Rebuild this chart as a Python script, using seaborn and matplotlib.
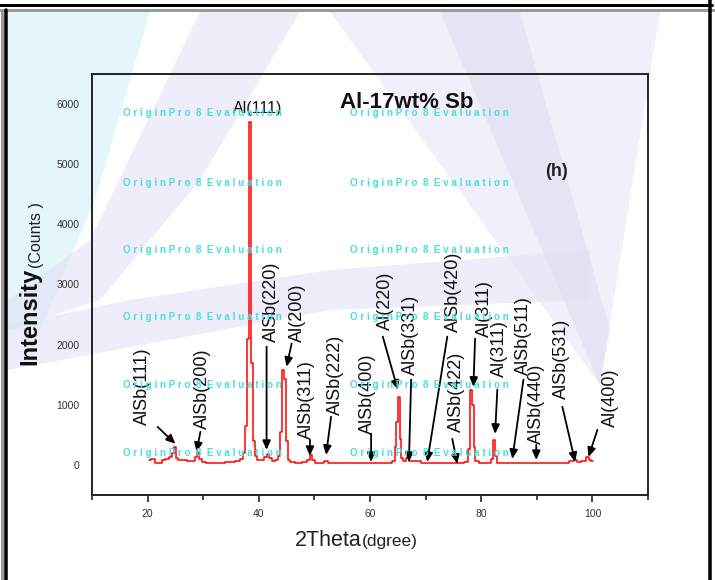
import matplotlib
matplotlib.use('Agg')
import matplotlib.pyplot as plt
import seaborn as sns
from matplotlib.patches import Polygon
from matplotlib.lines import Line2D
from matplotlib.ticker import MultipleLocator

# XRD trace (2theta in degrees, intensity in counts)
two_theta = [20.2, 21.0, 21.6, 22.4, 22.8, 23.6, 24.2, 24.6, 25.0, 25.3, 25.8, 26.6,
             27.4, 28.4, 28.8, 29.1, 29.4, 30.0, 31.0, 33.0, 35.0, 36.5, 36.9, 37.3,
             37.7, 38.1, 38.5, 38.8, 39.1, 39.4, 39.8, 40.6, 41.2, 41.6, 42.0, 42.6,
             43.2, 43.6, 44.0, 44.4, 44.8, 45.1, 45.4, 46.0, 47.0, 48.5, 49.0, 49.4,
             49.8, 50.5, 51.5, 51.9, 53.0, 56.0, 58.0, 60.4, 62.0, 63.5, 64.3, 64.6,
             64.9, 65.2, 65.5, 65.8, 66.2, 66.8, 67.2, 67.8, 68.2, 70.0, 73.0, 75.5,
             76.5, 77.4, 77.9, 78.2, 78.5, 78.8, 79.1, 80.0, 81.5, 82.0, 82.4, 82.7,
             83.0, 85.0, 90.0, 95.0, 96.5, 97.0, 97.5, 98.5, 99.1, 99.5, 100.1]
counts = [90, 100, 40, 40, 90, 100, 130, 200, 300, 120, 80, 80,
          70, 70, 130, 220, 100, 50, 40, 40, 50, 60, 100, 200,
          650, 2100, 5700, 1700, 400, 150, 80, 80, 130, 180, 120, 60,
          80, 150, 550, 1580, 1430, 400, 80, 50, 40, 50, 90, 160,
          80, 40, 40, 60, 30, 30, 30, 30, 30, 40, 60, 300,
          720, 1130, 430, 120, 60, 120, 60, 60, 70, 30, 30, 40,
          40, 50, 260, 1250, 1000, 300, 60, 30, 40, 100, 420, 150,
          40, 30, 30, 40, 60, 80, 50, 60, 140, 80, 60]

# peak labels: text bottom-centre, arrow start, arrow tip (data coords)
peak_labels = ['AlSb(111)', 'AlSb(200)', 'AlSb(220)', 'Al(200)', 'AlSb(311)',
               'AlSb(222)', 'AlSb(400)', 'Al(220)', 'AlSb(331)', 'AlSb(420)',
               'AlSb(422)', 'Al(311)', 'Al(311)', 'AlSb(511)', 'AlSb(440)',
               'AlSb(531)', 'Al(400)']
label_pos = [(19.1, 667), (29.9, 600), (42.3, 2050), (47.0, 2050), (48.6, 433),
             (53.7, 833), (59.5, 517), (62.7, 2250), (67.2, 1500), (75.0, 2217),
             (75.5, 550), (80.5, 2133), (83.2, 1467), (87.6, 1500), (89.9, 350),
             (94.4, 1100), (103.2, 633)]
arrow_from = [(21.8, 633), (29.5, 550), (41.4, 1967), (45.9, 2017), (49.2, 417),
              (53.0, 800), (60.2, 517), (62.3, 2133), (67.4, 1417), (73.9, 2133),
              (74.8, 433), (78.9, 2100), (82.9, 1250), (87.6, 1417), (89.9, 333),
              (94.6, 967), (100.9, 583)]
arrow_to = [(25.0, 350), (28.8, 217), (41.4, 250), (45.0, 1633), (49.2, 150),
            (52.1, 167), (60.2, 50), (65.0, 1250), (67.0, 50), (70.3, 50),
            (75.7, 17), (78.6, 1300), (82.5, 517), (85.6, 100), (89.9, 83),
            (96.9, 50), (99.3, 133)]

x_ticks = [20, 40, 60, 80, 100]
y_ticks = [0, 1000, 2000, 3000, 4000, 5000, 6000]

W, H = 715, 580


def fx(px):
    return px / W


def fy(py):
    return 1 - py / H


sns.set_theme(style='white')
plt.rcParams['font.family'] = ['Liberation Sans', 'DejaVu Sans']

fig = plt.figure(figsize=(W / 100, H / 100), dpi=100)
fig.patch.set_facecolor('white')

# faint watermark swooshes behind the plot
shapes = [
    ([(8, 12), (150, 12), (95, 200), (40, 330), (8, 330)], '#dff4fb', 0.8),
    ([(200, 12), (300, 12), (200, 180), (100, 300), (8, 330), (8, 300), (90, 240)], '#e3e1f5', 0.6),
    ([(8, 325), (130, 300), (330, 270), (590, 250), (590, 300), (330, 310), (8, 370)], '#e4e2f5', 0.6),
    ([(330, 12), (660, 12), (600, 385), (560, 330), (430, 150)], '#e8e6f7', 0.6),
    ([(440, 12), (520, 12), (610, 330), (600, 385)], '#dcd9f0', 0.45),
]
for pts, col, a in shapes:
    fig.patches.append(Polygon([(fx(x), fy(y)) for x, y in pts], closed=True,
                               transform=fig.transFigure, facecolor=col,
                               edgecolor='none', alpha=a, zorder=-5))

ax = fig.add_axes([fx(92), fy(495), fx(648) - fx(92), fy(74) - fy(495)])
ax.set_facecolor('none')

sns.lineplot(x=two_theta, y=counts, ax=ax, color='#ff0000', lw=1.1,
             drawstyle='steps-mid', estimator=None, sort=False, zorder=3)

ax.set_xlim(10, 110)
ax.set_ylim(-500, 6500)
ax.set_xticks(x_ticks)
ax.set_yticks(y_ticks)
ax.xaxis.set_minor_locator(MultipleLocator(10))
ax.tick_params(axis='x', which='major', direction='out', length=5, width=1.2,
               color='#222222', labelsize=7.5, labelcolor='#333333', pad=5, bottom=True)
ax.tick_params(axis='x', which='minor', direction='out', length=3.5, width=1.2,
               color='#222222', bottom=True)
ax.tick_params(axis='y', length=0, labelsize=7.5, labelcolor='#333333', pad=9)
for s in ax.spines.values():
    s.set_visible(True)
    s.set_color('#222222')
    s.set_linewidth(1.4)
ax.set_xlabel('')
ax.set_ylabel('')

for lab, (tx, ty), p0, p1 in zip(peak_labels, label_pos, arrow_from, arrow_to):
    ax.text(tx, ty, lab, rotation=90, ha='center', va='bottom', fontsize=13,
            color='#111111', zorder=4)
    ax.annotate('', xy=p1, xytext=p0,
                arrowprops=dict(arrowstyle='-|>,head_length=0.45,head_width=0.2',
                                color='black', lw=1.3, shrinkA=0, shrinkB=0),
                zorder=4)
ax.text(39.8, 5930, 'Al(111)', ha='center', va='center', fontsize=11.5, color='#111111')

# watermark text grid
wm = 'O r i g i n P r o  8  E v a l u a t i o n'
for wx in [123, 350]:
    for wy in [113, 183, 250, 317, 385, 453]:
        fig.text(fx(wx), fy(wy), wm, ha='left', va='center', fontsize=7.1,
                 fontweight='bold', color='#48dede', zorder=6)

fig.text(fx(407), fy(103), 'Al-17wt% Sb', ha='center', va='center',
         fontsize=16, fontweight='bold', color='#111111')
fig.text(fx(556), fy(172), '(h)', ha='center', va='center',
         fontsize=13, fontweight='bold', color='#222222')

fig.text(fx(362), fy(546), '2Theta', ha='right', va='baseline', fontsize=15.5, color='#222222')
fig.text(fx(362), fy(546), '(dgree)', ha='left', va='baseline', fontsize=12.5, color='#222222')
fig.text(fx(30), fy(365), 'Intensity', rotation=90, ha='center', va='bottom',
         fontsize=17, fontweight='bold', color='#111111')
fig.text(fx(36), fy(268), '(Counts )', rotation=90, ha='center', va='bottom',
         fontsize=11.5, color='#222222')

# panel frame
frame = [
    ([0, 712], [5, 5], 'black', 3),
    ([0, 715], [10, 10], '#9a9a9a', 3),
    ([5.5, 5.5], [10, 580], 'black', 3.5),
    ([1.5, 1.5], [10, 580], '#9a9a9a', 3),
    ([709.5, 709.5], [0, 580], 'black', 3.5),
]
for xs, ys, col, w in frame:
    fig.add_artist(Line2D([fx(v) for v in xs], [fy(v) for v in ys], color=col,
                          lw=w * 0.72, transform=fig.transFigure, zorder=10))

fig.savefig('out.png', dpi=100)
